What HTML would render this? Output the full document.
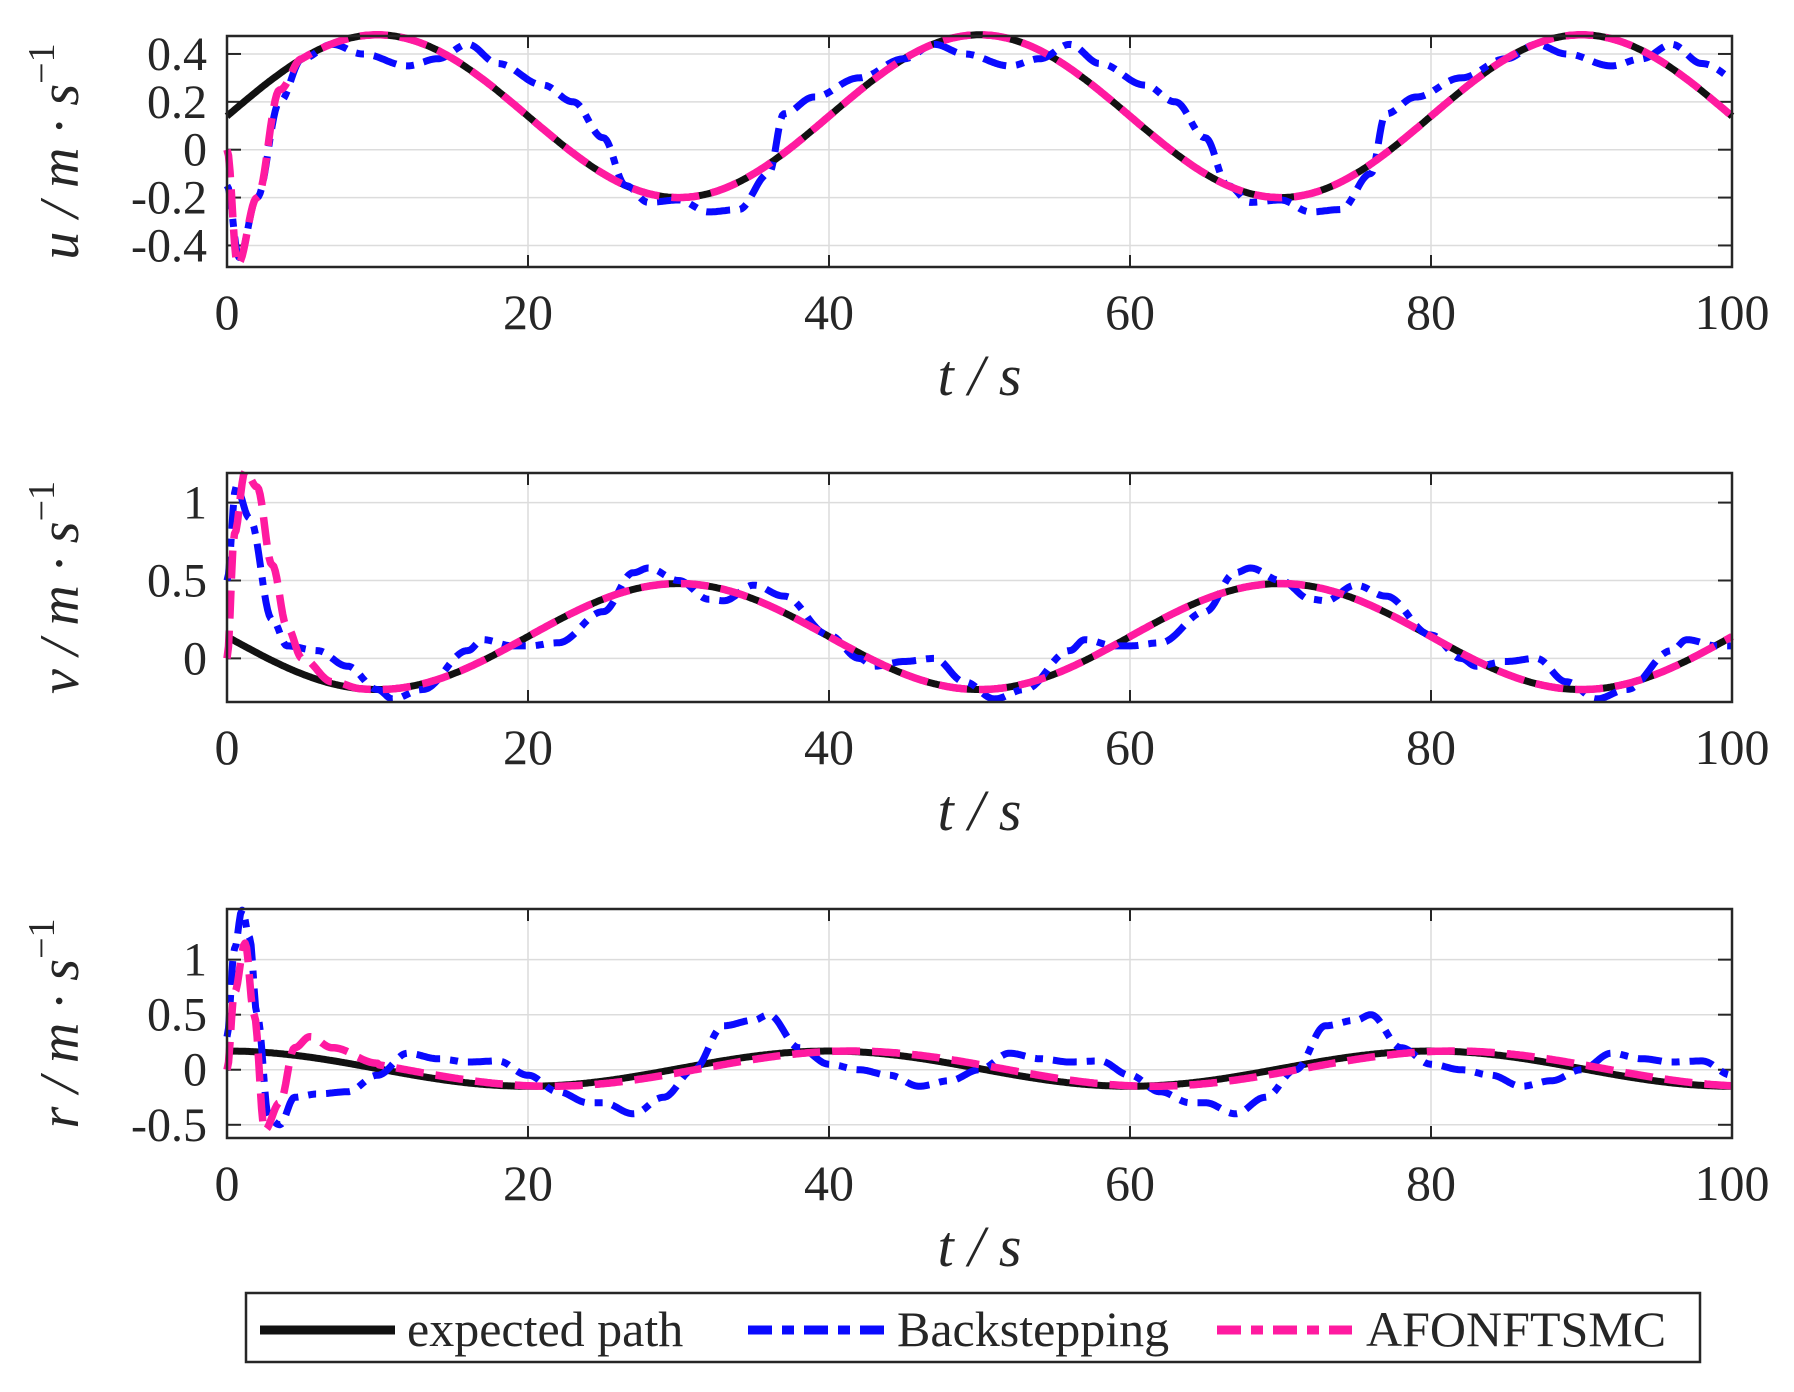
<!DOCTYPE html>
<html><head><meta charset="utf-8"><style>
html,body{margin:0;padding:0;background:#fff;}
svg{display:block;}
text{font-family:"Liberation Serif",serif;fill:#262626;}
</style></head><body>
<svg id="s" width="1794" height="1392" xmlns="http://www.w3.org/2000/svg"></svg>
<script>
const S=document.getElementById('s');
const X0=227,X1=1732;
const panels=[
 {top:36,bot:267,ymax:0.475,ymin:-0.49,ticks:[[0.4,'0.4'],[0.2,'0.2'],[0,'0'],[-0.2,'-0.2'],[-0.4,'-0.4']],lab:'u'},
 {top:473,bot:702,ymax:1.19,ymin:-0.28,ticks:[[1,'1'],[0.5,'0.5'],[0,'0']],lab:'v'},
 {top:909,bot:1138,ymax:1.46,ymin:-0.62,ticks:[[1,'1'],[0.5,'0.5'],[0,'0'],[-0.5,'-0.5']],lab:'r'}
];
const ud=t=>0.14+0.34*Math.cos(2*Math.PI*(t-10)/40);
const vd=t=>0.14+0.34*Math.cos(2*Math.PI*(t-30)/40);
const rd=t=>0.01+0.16*Math.cos(2*Math.PI*(t-40)/40);
function interp(pts,t){for(let i=0;i<pts.length-1;i++){if(t>=pts[i][0]&&t<=pts[i+1][0]){const a=pts[i],b=pts[i+1];const f=(t-a[0])/(b[0]-a[0]);const g=(1-Math.cos(Math.PI*f))/2;return a[1]+(b[1]-a[1])*g;}}return pts[pts.length-1][1];}
function periodic(init,pat,t){const s=pat[0][0];if(t<s)return interp(init,t);let tt=s+((t-s)%40);return interp(pat,tt);}
const ubsI=[[0,-0.15],[0.8,-0.45],[2,-0.2],[3.5,0.2],[5,0.38],[7,0.44]];
const ubsP=[[7,0.44],[9,0.4],[12,0.35],[14,0.38],[16,0.44],[18,0.36],[21,0.27],[23,0.2],[25,0.05],[26.5,-0.15],[28,-0.22],[30,-0.21],[32,-0.26],[34,-0.25],[36,-0.1],[37,0.15],[39,0.22],[42,0.3],[45,0.38],[47,0.44]];
const uafI=[[0,0],[0.7,-0.48],[2,-0.2],[3.5,0.25],[5,ud(5)]];
const vbsI=[[0,0.5],[0.6,1.1],[1.5,0.9],[3,0.25],[4,0.08],[6,0.05],[8,-0.05],[10,-0.2],[11,-0.26]];
const vbsP=[[11,-0.26],[13,-0.2],[16,0.05],[17,0.12],[19,0.08],[20,0.08],[22,0.1],[25,0.3],[27,0.55],[28,0.58],[30,0.5],[32,0.38],[33,0.37],[35,0.47],[37,0.4],[40,0.15],[42,0.0],[43,-0.05],[45,-0.02],[47,0.0],[49,-0.15],[51,-0.26]];
const vafI=[[0,0],[0.5,0.8],[1.2,1.2],[2,1.1],[3,0.6],[4,0.2],[5,0.0],[7,-0.15],[9,vd(9)]];
const rbsI=[[0,0.3],[0.5,1.1],[1,1.45],[1.5,1.2],[2,0.5],[2.8,-0.45],[3.5,-0.5],[4.5,-0.25],[6,-0.22],[8,-0.2],[10,-0.05],[12,0.15]];
const rbsP=[[12,0.15],[14,0.1],[16,0.07],[18,0.08],[20,-0.05],[22,-0.2],[24,-0.3],[25,-0.3],[27,-0.4],[29,-0.25],[31,0.0],[33,0.4],[35,0.45],[36,0.5],[38,0.2],[40,0.05],[42,0.0],[44,-0.05],[46,-0.15],[48,-0.1],[50,0.0],[52,0.15]];
const rafI=[[0,0],[0.5,0.7],[1.2,1.15],[1.8,0.5],[2.5,-0.55],[3.5,-0.3],[4.5,0.2],[5.5,0.3],[7,0.2],[10,rd(8)]];
const series=[
 [ud,t=>periodic(ubsI,ubsP,t),t=>t<5?interp(uafI,t):ud(t)],
 [vd,t=>periodic(vbsI,vbsP,t),t=>t<9?interp(vafI,t):vd(t)],
 [rd,t=>periodic(rbsI,rbsP,t),t=>t<10?interp(rafI,t):rd(t-1.5)]
];
let h='';
const xs=t=>X0+(X1-X0)*t/100;
panels.forEach((p,i)=>{
 const ys=v=>p.top+(p.ymax-v)/(p.ymax-p.ymin)*(p.bot-p.top);
 h+=`<defs><clipPath id="c${i}"><rect x="${X0-6}" y="${p.top-6}" width="${X1-X0+12}" height="${p.bot-p.top+12}"/></clipPath></defs>`;
 for(let k=1;k<5;k++){const x=xs(20*k);h+=`<line x1="${x}" y1="${p.top}" x2="${x}" y2="${p.bot}" stroke="#dcdcdc" stroke-width="1.5"/>`;
  h+=`<line x1="${x}" y1="${p.top}" x2="${x}" y2="${p.top+12}" stroke="#262626" stroke-width="2"/><line x1="${x}" y1="${p.bot}" x2="${x}" y2="${p.bot-12}" stroke="#262626" stroke-width="2"/>`;}
 p.ticks.forEach(([v,l])=>{const y=ys(v);h+=`<line x1="${X0}" y1="${y}" x2="${X1}" y2="${y}" stroke="#dcdcdc" stroke-width="1.5"/><line x1="${X0}" y1="${y}" x2="${X0+14}" y2="${y}" stroke="#262626" stroke-width="2"/><line x1="${X1}" y1="${y}" x2="${X1-14}" y2="${y}" stroke="#262626" stroke-width="2"/>`;
  h+=`<text x="${X0-20}" y="${y+16}" font-size="48" text-anchor="end">${l}</text>`;});
 const cols=['#111','#0a0aff','#ff1aa0'];
 const dash=['','24 10 8 10','28 12'];
 const wid=[7,7,7.5];
 series[i].forEach((f,j)=>{let d='';for(let t=0;t<=100;t+=0.1){d+=(t===0?'M':'L')+xs(t).toFixed(1)+','+ys(f(t)).toFixed(1);}
  h+=`<path d="${d}" fill="none" stroke="${cols[j]}" stroke-width="${wid[j]}" ${dash[j]?`stroke-dasharray="${dash[j]}"`:''} stroke-linejoin="round" clip-path="url(#c${i})"/>`;});
 h+=`<rect x="${X0}" y="${p.top}" width="${X1-X0}" height="${p.bot-p.top}" fill="none" stroke="#262626" stroke-width="2.5"/>`;
 const ly=p.bot+62;
 [0,20,40,60,80,100].forEach(v=>{h+=`<text x="${xs(v)}" y="${ly}" font-size="50" text-anchor="middle">${v}</text>`;});
 h+=`<text x="${(X0+X1)/2}" y="${p.bot+128}" font-size="58" font-style="italic" text-anchor="middle">t / s</text>`;
 const cy=(p.top+p.bot)/2;
 h+=`<text transform="translate(78,${cy}) rotate(-90)" font-size="56" font-style="italic" text-anchor="middle">${p.lab} / m · s<tspan dy="-24" font-size="38" font-style="normal">−1</tspan></text>`;
});
h+=`<rect x="246" y="1293" width="1454" height="69" fill="#fff" stroke="#262626" stroke-width="2.5"/>`;
h+=`<line x1="260" y1="1330" x2="395" y2="1330" stroke="#111" stroke-width="9"/>`;
h+=`<text x="407" y="1346" font-size="50">expected path</text>`;
h+=`<line x1="748" y1="1330" x2="885" y2="1330" stroke="#0a0aff" stroke-width="9" stroke-dasharray="24 10 12 10"/>`;
h+=`<text x="897" y="1346" font-size="50">Backstepping</text>`;
h+=`<line x1="1217" y1="1330" x2="1352" y2="1330" stroke="#ff1aa0" stroke-width="9" stroke-dasharray="24 10 12 10"/>`;
h+=`<text x="1366" y="1346" font-size="50">AFONFTSMC</text>`;
S.innerHTML=h;
</script>
</body></html>
